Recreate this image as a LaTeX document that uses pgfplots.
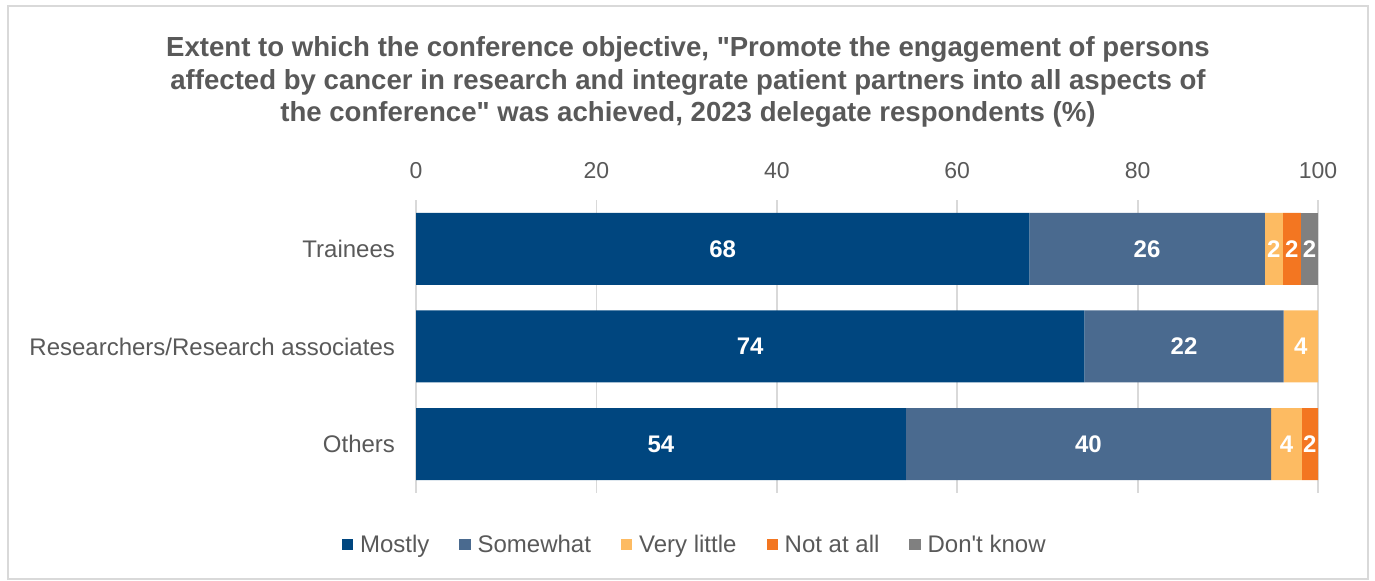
\documentclass[border=0pt]{standalone}
\usepackage{pgfplots}
\usepackage{pgfplotstable}
\pgfplotsset{compat=1.18}
\usepackage{fontspec}
\setmainfont{Liberation Sans}
\newfontfamily\plain{Liberation Sans}
\definecolor{cMost}{RGB}{0,70,127}
\definecolor{cSome}{RGB}{74,106,143}
\definecolor{cLittle}{RGB}{253,187,98}
\definecolor{cNot}{RGB}{243,118,33}
\definecolor{cDK}{RGB}{128,128,128}
\definecolor{txt}{RGB}{89,89,89}
\definecolor{gridc}{RGB}{217,217,217}

\pgfplotstableread{
y v
3 68
2 74.1
1 54.3
}\mostly
\pgfplotstableread{
y v
3 26.1
2 22.1
1 40.5
}\somewhat
\pgfplotstableread{
y v
3 2
2 3.8
1 3.4
}\verylittle
\pgfplotstableread{
y v
3 2
2 0
1 1.8
}\notatall
\pgfplotstableread{
y v
3 1.9
2 0
1 0
}\dontknow
\pgfplotstableread{
x y lab
34 3 68
81.05 3 26
95.1 3 2
97.1 3 2
99.05 3 2
37.05 2 74
85.15 2 22
98.1 2 4
27.15 1 54
74.55 1 40
96.5 1 4
99.1 1 2
}\labeltab

\begin{document}
\begin{tikzpicture}
\useasboundingbox (0,0) rectangle (687.5pt,-290.5pt);
\draw[gridc, line width=0.75pt] (4pt,-3pt) rectangle (684pt,-289.5pt);
\node[text=txt, font=\plain\fontsize{13.8}{16.25}\selectfont\bfseries, align=center] at (344pt,-41pt)
 {Extent to which the conference objective, "Promote the engagement of persons\\
 affected by cancer in research and integrate patient partners into all aspects of\\
 the conference" was achieved, 2023 delegate respondents (\%)};
\begin{axis}[
  at={(208pt,-246.5pt)}, anchor=south west,
  scale only axis, width=451pt, height=146.5pt,
  xbar stacked, bar width=36pt,
  xmin=0, xmax=100, ymin=0.5, ymax=3.5,
  xtick={0,20,40,60,80,100},
  ytick={1,2,3},
  yticklabels={Others,Researchers/Research associates,Trainees},
  xticklabel pos=right,
  /pgf/number format/assume math mode=true,
  major tick length=0pt,
  axis line style={draw=none},
  xmajorgrids, grid style={gridc, line width=0.9pt},
  ymajorgrids=false,
  xticklabel style={text=txt, font=\fontsize{11.5}{13}\selectfont, yshift=7pt},
  yticklabel style={text=txt, font=\fontsize{12}{14}\selectfont, xshift=-7pt},
  legend style={at={(0.309,-0.177)}, anchor=center, draw=none, fill=none,
    legend columns=-1, font=\plain\fontsize{12}{14}\selectfont, text=txt,
    nodes={inner sep=1pt},
    /tikz/every odd column/.append style={column sep=2.5pt},
    /tikz/every even column/.append style={column sep=14pt}},
  legend image code/.code={\fill[#1] (0pt,-2.8pt) rectangle (5.6pt,2.8pt);},
]
\addplot[fill=cMost, draw=none] table[x=v,y=y]{\mostly};
\addlegendentry{Mostly}
\addplot[fill=cSome, draw=none] table[x=v,y=y]{\somewhat};
\addlegendentry{Somewhat}
\addplot[fill=cLittle, draw=none] table[x=v,y=y]{\verylittle};
\addlegendentry{Very little}
\addplot[fill=cNot, draw=none] table[x=v,y=y]{\notatall};
\addlegendentry{Not at all}
\addplot[fill=cDK, draw=none] table[x=v,y=y]{\dontknow};
\addlegendentry{Don't know}
\end{axis}
\begin{axis}[
  at={(208pt,-246.5pt)}, anchor=south west,
  scale only axis, width=451pt, height=146.5pt,
  xmin=0, xmax=100, ymin=0.5, ymax=3.5,
  hide axis,
]
\addplot[draw=none, mark=none, nodes near coords, point meta=explicit symbolic,
  every node near coord/.style={anchor=center, text=white, font=\fontsize{12}{14}\selectfont\bfseries, inner sep=0pt}]
  table[x=x,y=y,meta=lab]{\labeltab};
\end{axis}
\end{tikzpicture}
\end{document}
